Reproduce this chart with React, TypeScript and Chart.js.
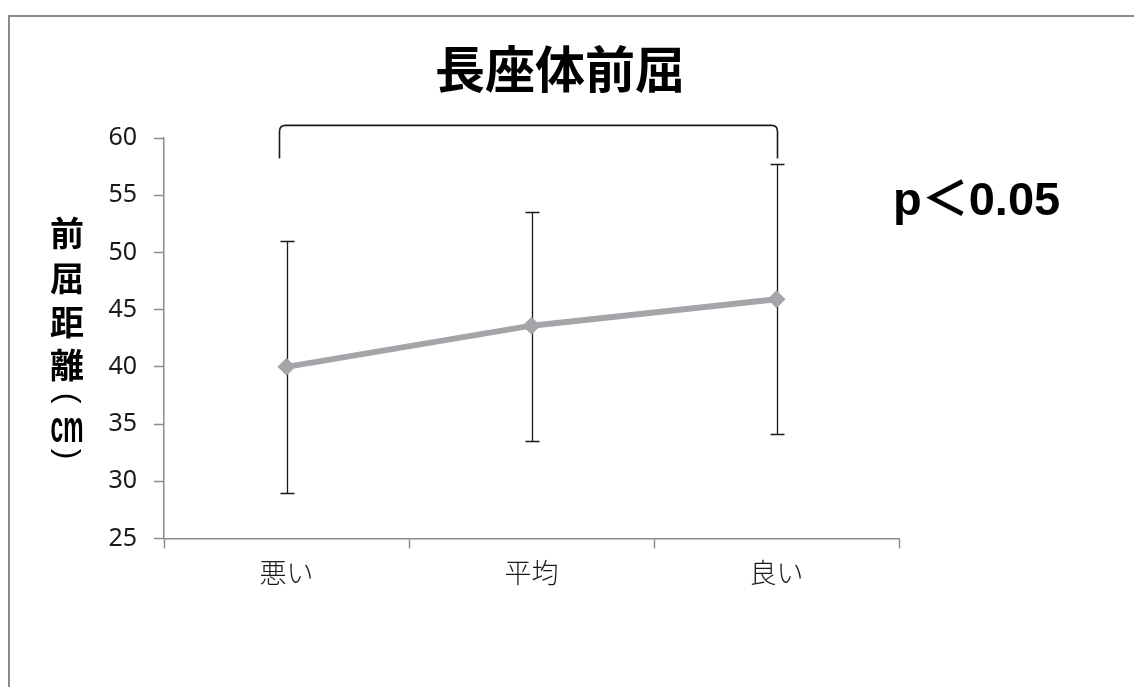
import React, { useEffect, useRef } from 'react';
import { Chart, registerables } from 'chart.js';

Chart.register(...registerables);

const categories = ['悪い', '平均', '良い'];
const means = [40.0, 43.6, 45.9];
const errUpper = [51.0, 53.5, 57.7];
const errLower = [29.0, 33.5, 34.1];
const yTicks = [25, 30, 35, 40, 45, 50, 55, 60];
const titleText = '長座体前屈';
const yTitleChars = ['前', '屈', '距', '離', '(', 'cm', ')'];
const pText = 'p＜0.05';
const bracketFrom = 0;
const bracketTo = 2;
const bracketTop = 61.1;
const bracketBottom = 58.2;

const AXIS_COLOR = '#8c8c8c';
const LINE_COLOR = '#a6a4a8';

const errorBarPlugin = {
  id: 'errorBars',
  beforeDatasetsDraw(chart: any) {
    const { ctx, scales } = chart;
    const x = scales.x;
    const y = scales.y;
    ctx.save();
    ctx.strokeStyle = '#1a1a1a';
    ctx.lineWidth = 1.3;
    categories.forEach((_c, i) => {
      const px = Math.round(x.getPixelForValue(i)) + 0.5;
      const top = Math.round(y.getPixelForValue(errUpper[i])) + 0.5;
      const bot = Math.round(y.getPixelForValue(errLower[i])) + 0.5;
      ctx.beginPath();
      ctx.moveTo(px, top);
      ctx.lineTo(px, bot);
      ctx.moveTo(px - 7, top);
      ctx.lineTo(px + 7, top);
      ctx.moveTo(px - 7, bot);
      ctx.lineTo(px + 7, bot);
      ctx.stroke();
    });
    ctx.restore();
  },
};

const decorPlugin = {
  id: 'decor',
  afterDraw(chart: any) {
    const { ctx, scales } = chart;
    const x = scales.x;
    const y = scales.y;
    ctx.save();
    // Title
    ctx.fillStyle = '#000';
    ctx.font = 'bold 50px "Noto Sans CJK JP"';
    ctx.textAlign = 'center';
    ctx.textBaseline = 'middle';
    ctx.fillText(titleText, 550, 52);

    // Vertical y-axis title (stacked characters, parentheses rotated as in vertical writing)
    const yPos = [216, 261, 305, 348, 381, 413, 437];
    yTitleChars.forEach((ch, i) => {
      ctx.save();
      if (ch === 'cm') {
        ctx.font = 'bold 44px "Liberation Sans"';
        ctx.fillText(ch, 57, yPos[i], 33);
      } else if (ch === '(' || ch === ')') {
        ctx.translate(57, yPos[i]);
        ctx.rotate(Math.PI / 2);
        ctx.font = '32px "Liberation Sans"';
        ctx.fillText(ch, 0, 0);
      } else {
        ctx.font = 'bold 34px "Noto Sans CJK JP"';
        ctx.fillText(ch, 57, yPos[i]);
      }
      ctx.restore();
    });

    // p text
    ctx.font = 'bold 47px "Liberation Sans", "Noto Sans CJK JP"';
    ctx.textAlign = 'left';
    ctx.textBaseline = 'alphabetic';
    ctx.fillText(pText, 883, 198);

    // Bracket
    const left = x.getPixelForValue(bracketFrom) - 7;
    const right = x.getPixelForValue(bracketTo) + 1;
    const top = y.getPixelForValue(bracketTop);
    const bot = y.getPixelForValue(bracketBottom);
    const r = 6;
    ctx.strokeStyle = '#1a1a1a';
    ctx.lineWidth = 1.6;
    ctx.beginPath();
    ctx.moveTo(left, bot);
    ctx.lineTo(left, top + r);
    ctx.quadraticCurveTo(left, top, left + r, top);
    ctx.lineTo(right - r, top);
    ctx.quadraticCurveTo(right, top, right, top + r);
    ctx.lineTo(right, bot);
    ctx.stroke();
    ctx.restore();
  },
};

export default function App() {
  const canvasRef = useRef<HTMLCanvasElement | null>(null);

  useEffect(() => {
    if (!canvasRef.current) return;
    const chart = new Chart(canvasRef.current, {
      type: 'line',
      data: {
        labels: categories,
        datasets: [
          {
            data: means,
            borderColor: LINE_COLOR,
            backgroundColor: LINE_COLOR,
            borderWidth: 6,
            pointStyle: 'rectRot',
            pointRadius: 9,
            pointHoverRadius: 9,
            pointBackgroundColor: LINE_COLOR,
            pointBorderColor: LINE_COLOR,
            pointBorderWidth: 0,
            tension: 0,
          },
        ],
      },
      options: {
        responsive: false,
        animation: false,
        events: [],
        layout: { padding: { left: 0, right: 235, top: 121, bottom: 88.5 } },
        plugins: {
          legend: { display: false },
          title: { display: false },
          tooltip: { enabled: false },
        },
        scales: {
          x: {
            type: 'category',
            offset: true,
            afterFit: (s: any) => {
              s.height = 60;
            },
            grid: {
              offset: true,
              drawOnChartArea: false,
              drawTicks: true,
              tickLength: 10,
              tickColor: AXIS_COLOR,
              tickWidth: 1.5,
            },
            border: { display: true, color: AXIS_COLOR, width: 1.5 },
            ticks: {
              color: '#1a1a1a',
              font: { family: '"Noto Sans CJK JP"', size: 27, weight: 300 },
              padding: 8,
              maxRotation: 0,
            },
          },
          y: {
            min: 25,
            max: 60,
            afterFit: (s: any) => {
              s.width = 154;
            },
            afterBuildTicks: (s: any) => {
              s.ticks = yTicks.map((v) => ({ value: v }));
            },
            grid: {
              drawOnChartArea: false,
              drawTicks: true,
              tickLength: 10,
              tickColor: AXIS_COLOR,
              tickWidth: 1.5,
            },
            border: { display: true, color: AXIS_COLOR, width: 1.5 },
            ticks: {
              color: '#1a1a1a',
              font: { family: '"Noto Sans"', size: 25 },
              padding: 17,
            },
          },
        },
      },
      plugins: [errorBarPlugin, decorPlugin],
    });
    return () => chart.destroy();
  }, []);

  return (
    <div
      style={{
        position: 'fixed',
        left: 0,
        top: 0,
        width: 1134,
        height: 687,
        overflow: 'hidden',
        background: '#fff',
      }}
    >
      <div
        style={{
          position: 'absolute',
          left: 8,
          top: 15,
          width: 1300,
          height: 900,
          border: '2px solid #8a8a8a',
          boxSizing: 'border-box',
        }}
      />
      <canvas
        ref={canvasRef}
        width={1124}
        height={670}
        style={{ position: 'absolute', left: 10, top: 17, width: 1124, height: 670 }}
      />
    </div>
  );
}
